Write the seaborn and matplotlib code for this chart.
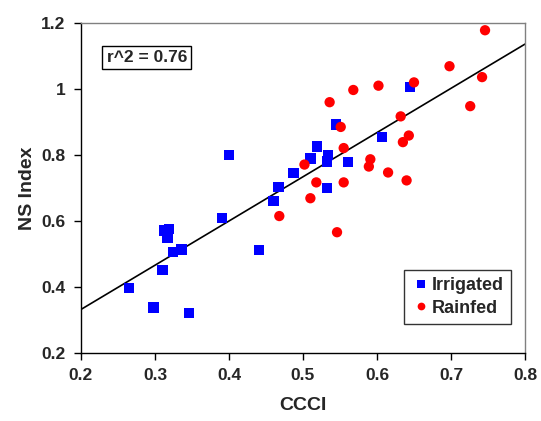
import numpy as np
import pandas as pd
import matplotlib
matplotlib.use("Agg")
import matplotlib.pyplot as plt
import seaborn as sns

# ---- data ----
irr_ccci = [0.265, 0.298, 0.310, 0.312, 0.317, 0.319, 0.324, 0.336, 0.346, 0.391,
            0.400, 0.441, 0.460, 0.467, 0.487, 0.510, 0.519, 0.532, 0.532, 0.534,
            0.545, 0.561, 0.607, 0.645]
irr_ns = [0.396, 0.338, 0.452, 0.571, 0.549, 0.575, 0.506, 0.514, 0.321, 0.609,
          0.801, 0.512, 0.660, 0.704, 0.745, 0.789, 0.826, 0.699, 0.780, 0.801,
          0.892, 0.779, 0.854, 1.006]

rain_ccci = [0.746, 0.698, 0.742, 0.650, 0.602, 0.568, 0.536, 0.726, 0.632, 0.551,
             0.643, 0.635, 0.555, 0.591, 0.502, 0.589, 0.615, 0.640, 0.518, 0.555,
             0.510, 0.468, 0.546]
rain_ns = [1.178, 1.069, 1.036, 1.020, 1.010, 0.997, 0.960, 0.948, 0.917, 0.885,
           0.859, 0.839, 0.821, 0.787, 0.771, 0.765, 0.747, 0.723, 0.717, 0.717,
           0.669, 0.615, 0.566]

# regression line
slope = 1.34
intercept = 0.064
r2_text = "r^2 = 0.76"

df = pd.DataFrame({
    "CCCI": irr_ccci + rain_ccci,
    "NS Index": irr_ns + rain_ns,
    "Type": ["Irrigated"] * len(irr_ccci) + ["Rainfed"] * len(rain_ccci),
})

sns.set_style("white")
plt.rcParams["font.family"] = ["Liberation Sans", "DejaVu Sans"]
plt.rcParams["font.weight"] = "bold"

fig = plt.figure(figsize=(5.41, 4.21), dpi=100)
ax = fig.add_axes([0.1497, 0.1615, 0.8207, 0.7839])

# trend line
line_x = np.array([0.2, 0.8])
ax.plot(line_x, slope * line_x + intercept, color="black", lw=1.2, zorder=1)

sns.scatterplot(data=df, x="CCCI", y="NS Index", hue="Type", style="Type",
                palette={"Irrigated": "#0000FF", "Rainfed": "#FF0000"},
                markers={"Irrigated": "s", "Rainfed": "o"},
                s=55, linewidth=0, ax=ax, zorder=2)

ax.set_xlim(0.2, 0.8)
ax.set_ylim(0.2, 1.2)
ax.set_xticks(np.arange(0.2, 0.81, 0.1))
ax.set_yticks(np.arange(0.2, 1.21, 0.2))
ax.set_xticklabels(["0.2", "0.3", "0.4", "0.5", "0.6", "0.7", "0.8"])
ax.set_yticklabels(["0.2", "0.4", "0.6", "0.8", "1", "1.2"])
ax.tick_params(axis="both", direction="out", length=5, width=1, color="black",
               labelsize=12.5, pad=6, bottom=True, left=True)
for lab in ax.get_xticklabels() + ax.get_yticklabels():
    lab.set_fontweight("bold")

ax.set_xlabel("CCCI", fontsize=14, fontweight="bold", labelpad=10)
ax.set_ylabel("NS Index", fontsize=14, fontweight="bold", labelpad=4)

ax.spines["left"].set_color("black")
ax.spines["bottom"].set_color("black")
ax.spines["top"].set_color("#808080")
ax.spines["right"].set_color("#808080")
for sp in ax.spines.values():
    sp.set_linewidth(1)

ax.text(0.058, 0.895, r2_text, transform=ax.transAxes, fontsize=12.5,
        fontweight="bold", va="center", ha="left",
        bbox=dict(boxstyle="square,pad=0.25", fc="white", ec="black", lw=1))

leg = ax.legend(loc="lower right", bbox_to_anchor=(0.968, 0.088),
                borderaxespad=0, frameon=True, fancybox=False,
                prop={"weight": "bold", "size": 13}, handletextpad=0.1,
                markerscale=0.75, borderpad=0.4, labelspacing=0.3,
                handlelength=1.0)
leg.get_frame().set_edgecolor("black")
leg.get_frame().set_linewidth(1)

fig.savefig("out.png", dpi=100)
